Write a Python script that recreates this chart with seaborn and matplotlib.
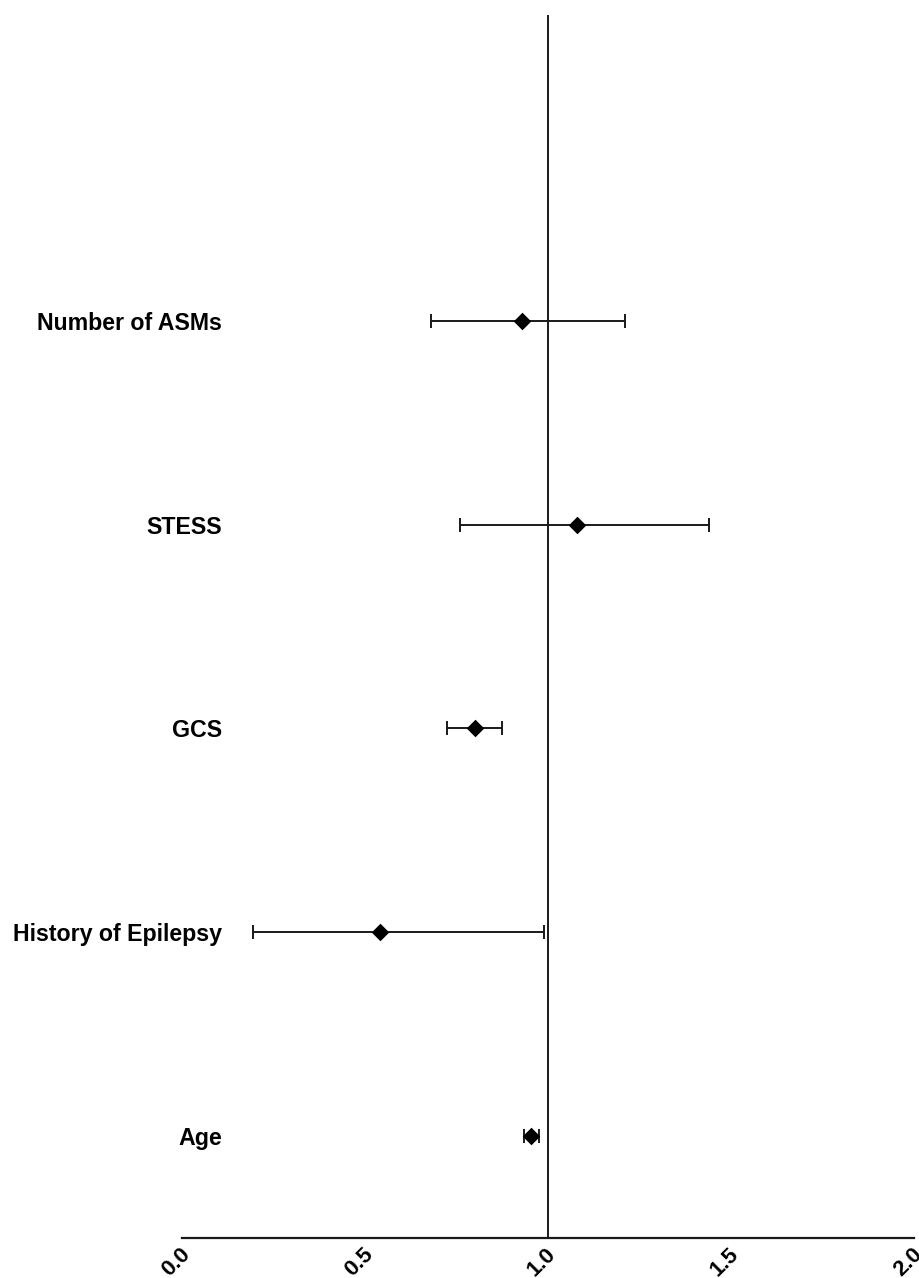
import numpy as np
import pandas as pd
import matplotlib
matplotlib.use("Agg")
import matplotlib.pyplot as plt
import matplotlib.transforms as mtransforms
import seaborn as sns

# odds ratios with 95% CI
variables = ["Number of ASMs", "STESS", "GCS", "History of Epilepsy", "Age"]
odds_ratio = [0.93, 1.08, 0.80, 0.54, 0.955]
ci_low = [0.68, 0.76, 0.725, 0.195, 0.935]
ci_high = [1.21, 1.44, 0.875, 0.99, 0.975]
x_ticks = [0.0, 0.5, 1.0, 1.5, 2.0]

df = pd.DataFrame({"variable": variables, "or": odds_ratio,
                   "lo": ci_low, "hi": ci_high})
# top row first, so Age sits at 1 and there is an empty slot on top
df["pos"] = np.arange(len(df), 0, -1)

sns.set_style("white")
plt.rcParams["font.family"] = ["Liberation Sans", "DejaVu Sans"]

fig = plt.figure(figsize=(9.19, 12.78), dpi=100)
ax = fig.add_axes([0.198, 0.0313, 0.7965, 0.957])

ax.axvline(1.0, color="#1a1a1a", lw=1.4, zorder=1)
ax.errorbar(df["or"], df["pos"],
            xerr=[df["or"] - df["lo"], df["hi"] - df["or"]],
            fmt="none", ecolor="#1a1a1a", elinewidth=1.4,
            capsize=5, capthick=1.4, zorder=2)
sns.scatterplot(data=df, x="or", y="pos", marker="D", s=80,
                color="black", edgecolor="black", linewidth=0, ax=ax, zorder=3)

ax.set_xlim(0, 2.0)
ax.set_ylim(0.5, 6.5)
ax.set_yticks(df["pos"])
ax.set_yticklabels(df["variable"], fontsize=16.7, fontweight="bold", color="black")
ax.set_xticks(x_ticks)
ax.set_xticklabels([f"{t:.1f}" for t in x_ticks], fontsize=16,
                   fontweight="bold", rotation=45, ha="center", color="black")
ax.tick_params(axis="both", length=0)
ax.tick_params(axis="y", pad=-29)
ax.tick_params(axis="x", pad=4)
# nudge the slanted labels a little to the left, as in the original
shift = mtransforms.ScaledTranslation(-0.06, 0, fig.dpi_scale_trans)
for lab in ax.get_xticklabels():
    lab.set_transform(lab.get_transform() + shift)
ax.set_xlabel("")
ax.set_ylabel("")

sns.despine(ax=ax, left=True, top=True, right=True)
ax.spines["bottom"].set_linewidth(1.6)
ax.spines["bottom"].set_color("#1a1a1a")

fig.savefig("out.png", dpi=100)
